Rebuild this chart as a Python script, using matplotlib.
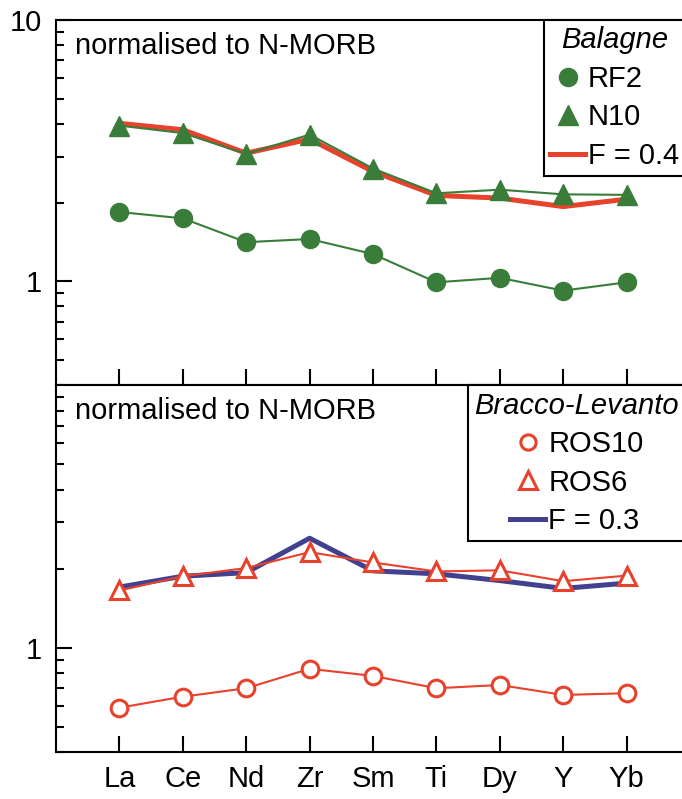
import matplotlib
matplotlib.use('agg')
import matplotlib.pyplot as plt
from matplotlib.lines import Line2D
from matplotlib.ticker import FixedLocator, LogLocator, NullFormatter, FixedFormatter
import numpy as np

plt.rcParams['font.family'] = ['Liberation Sans', 'DejaVu Sans']

elements = ['La', 'Ce', 'Nd', 'Zr', 'Sm', 'Ti', 'Dy', 'Y', 'Yb']

# Balagne (top panel), N-MORB normalised
rf2 = [1.84, 1.74, 1.41, 1.45, 1.27, 0.99, 1.03, 0.92, 0.99]
n10 = [3.94, 3.69, 3.07, 3.64, 2.70, 2.17, 2.24, 2.15, 2.14]
f04 = [4.02, 3.80, 3.09, 3.50, 2.63, 2.13, 2.08, 1.93, 2.06]

# Bracco-Levanto (bottom panel), N-MORB normalised
ros10 = [0.59, 0.65, 0.70, 0.83, 0.78, 0.70, 0.72, 0.66, 0.67]
ros6 = [1.65, 1.87, 2.01, 2.31, 2.11, 1.95, 1.97, 1.79, 1.88]
f03 = [1.70, 1.87, 1.93, 2.61, 1.96, 1.91, 1.80, 1.68, 1.76]

green = '#3a7d3a'
red = '#e8412c'
blue = '#41418f'
fs = 21

x = np.arange(len(elements))

fig = plt.figure(figsize=(6.82, 7.99), dpi=100)
ax1 = fig.add_axes([0.0821, 0.518, 0.9296, 0.457])
ax2 = fig.add_axes([0.0821, 0.0588, 0.9296, 0.4592])


def style_axis(ax, major):
    ax.set_yscale('log')
    ax.set_ylim(0.4, 10)
    ax.set_xlim(-1, 9)
    ax.set_xticks(x)
    ax.yaxis.set_major_locator(FixedLocator(major))
    ax.yaxis.set_major_formatter(FixedFormatter([('%g' % m) for m in major]))
    ax.yaxis.set_minor_locator(LogLocator(base=10, subs=np.arange(2, 10)))
    ax.yaxis.set_minor_formatter(NullFormatter())
    ax.tick_params(axis='both', which='major', direction='in', length=11.5, width=1.5,
                   labelsize=fs, pad=10)
    ax.tick_params(axis='y', which='minor', direction='in', length=6, width=1.5)
    for s in ['left', 'top', 'bottom']:
        ax.spines[s].set_linewidth(1.5)
    ax.spines['right'].set_visible(False)
    ax.text(0.03, 0.968, 'normalised to N-MORB', transform=ax.transAxes,
            fontsize=fs, va='top', ha='left')


style_axis(ax1, [1, 10])
style_axis(ax2, [1])
ax1.tick_params(axis='x', labelbottom=False)
ax2.set_xticklabels(elements)
ax2.tick_params(axis='x', pad=9)

# top panel
ax1.plot(x, f04, color=red, lw=3.6, zorder=2)
ax1.plot(x, n10, color=green, lw=1.5, marker='^', ms=14, zorder=3)
ax1.plot(x, rf2, color=green, lw=1.5, marker='o', ms=13, zorder=3)

# bottom panel
ax2.plot(x, f03, color=blue, lw=3.6, zorder=2)
ax2.plot(x, ros6, color=red, lw=1.5, marker='^', ms=13, mfc='white',
         mec=red, mew=2.2, zorder=3)
ax2.plot(x, ros10, color=red, lw=1.5, marker='o', ms=12, mfc='white',
         mec=red, mew=2.2, zorder=3)

legend_kw = dict(loc='upper right', bbox_to_anchor=(0.993, 1.0), borderaxespad=0,
                 fontsize=fs, frameon=True, fancybox=False, edgecolor='black',
                 framealpha=1, handlelength=1.2, handletextpad=0.1,
                 labelspacing=0.36, borderpad=0.22)

h1 = [Line2D([], [], ls='none', marker='o', ms=13, color=green),
      Line2D([], [], ls='none', marker='^', ms=14, color=green),
      Line2D([], [], color=red, lw=3.6)]
leg1 = ax1.legend(h1, ['RF2', 'N10', 'F = 0.4'], title='Balagne',
                  title_fontproperties={'size': fs, 'style': 'italic'}, **legend_kw)
leg1.get_frame().set_linewidth(1.5)

h2 = [Line2D([], [], ls='none', marker='o', ms=11, mfc='white', mec=red, mew=2.2),
      Line2D([], [], ls='none', marker='^', ms=13, mfc='white', mec=red, mew=2.2),
      Line2D([], [], color=blue, lw=3.6)]
leg2 = ax2.legend(h2, ['ROS10', 'ROS6', 'F = 0.3'], title='Bracco-Levanto',
                  title_fontproperties={'size': fs, 'style': 'italic'}, **legend_kw)
leg2.get_frame().set_linewidth(1.5)

fig.savefig('out.png', dpi=100)
